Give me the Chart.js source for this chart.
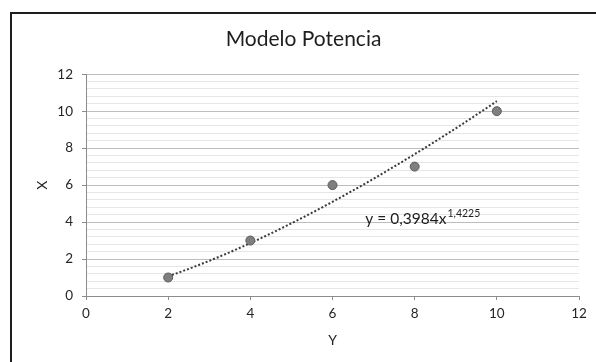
<!DOCTYPE html>
<html>
<head>
<meta charset="utf-8">
<script src="https://cdn.jsdelivr.net/npm/chart.js@4.4.1/dist/chart.umd.min.js"></script>
<style>
  html, body { margin: 0; padding: 0; background: #fff; }
  #wrap { width: 596px; height: 362px; position: relative; }
</style>
</head>
<body>
<div id="wrap"><canvas id="chart" width="596" height="362"></canvas></div>
<script>
// observed values
var xValues = [2, 4, 6, 8, 10];
var yValues = [1, 3, 6, 7, 10];

// power trendline y = a * x^b, as printed on the chart
var trendA = 0.3984;
var trendB = 1.4225;
var trendLabel = 'y = 0,3984x';
var trendExp = '1,4225';

var xTicks = [0, 2, 4, 6, 8, 10, 12];
var yTicks = [0, 2, 4, 6, 8, 10, 12];

var FONT = 'Lato, "Open Sans", sans-serif';

var points = xValues.map(function (x, i) { return { x: x, y: yValues[i] }; });

// sample the fitted curve over the range of the data
var trend = [];
var x0 = xValues[0], x1 = xValues[xValues.length - 1];
for (var k = 0; k <= 40; k++) {
    var xx = x0 + (x1 - x0) * k / 40;
    trend.push({ x: xx, y: trendA * Math.pow(xx, trendB) });
}

function isMajor(v) {
    return Math.abs(v / 2 - Math.round(v / 2)) < 1e-6;
}

// white background plus the frame round the chart
var framePlugin = {
    id: 'frame',
    beforeDraw: function (chart) {
        var ctx = chart.ctx;
        ctx.save();
        ctx.fillStyle = '#fff';
        ctx.fillRect(0, 0, chart.width, chart.height);
        ctx.fillStyle = '#1e1e1e';
        ctx.fillRect(10, 12, 2, chart.height - 12);
        ctx.fillRect(10, 12, chart.width - 10, 2);
        ctx.restore();
    }
};

// trendline equation with superscript exponent
var equationPlugin = {
    id: 'equation',
    afterDatasetsDraw: function (chart, args, opts) {
        var ctx = chart.ctx;
        var px = chart.scales.x.getPixelForValue(opts.x);
        var py = chart.scales.y.getPixelForValue(opts.y);
        ctx.save();
        ctx.fillStyle = '#1e1e1e';
        ctx.textBaseline = 'alphabetic';
        ctx.textAlign = 'left';
        ctx.font = '15.5px ' + FONT;
        ctx.fillText(trendLabel, px, py);
        var w = ctx.measureText(trendLabel).width;
        ctx.font = '10.5px ' + FONT;
        ctx.fillText(trendExp, px + w + 1, py - 7);
        ctx.restore();
    }
};

new Chart(document.getElementById('chart'), {
    type: 'scatter',
    data: {
        datasets: [{
            label: 'datos',
            data: points,
            backgroundColor: '#7f7f7f',
            borderColor: '#5c5c5c',
            borderWidth: 1,
            pointRadius: 4.5,
            order: 1
        }, {
            type: 'line',
            label: 'Potencia',
            data: trend,
            borderColor: '#3a3a3a',
            borderWidth: 2,
            borderDash: [2, 2],
            pointRadius: 0,
            fill: false,
            tension: 0,
            order: 2
        }]
    },
    options: {
        responsive: false,
        animation: false,
        layout: { padding: { left: 28, right: 17, top: 0, bottom: 0 } },
        plugins: {
            legend: { display: false },
            tooltip: { enabled: false },
            title: {
                display: true,
                text: 'Modelo Potencia',
                color: '#1e1e1e',
                font: { family: FONT, size: 21, weight: 'normal' },
                padding: { top: 27, bottom: 22 }
            },
            equation: { x: 6.8, y: 3.9 }
        },
        scales: {
            x: {
                type: 'linear',
                min: 0,
                max: 12,
                afterBuildTicks: function (scale) {
                    scale.ticks = xTicks.map(function (v) { return { value: v }; });
                },
                afterFit: function (scale) { scale.height = 66; },
                grid: {
                    drawOnChartArea: false,
                    drawTicks: true,
                    tickLength: 4,
                    tickColor: '#8c8c8c'
                },
                border: { color: '#8c8c8c', width: 1 },
                ticks: {
                    color: '#262626',
                    padding: 6,
                    font: { family: FONT, size: 13.5 }
                },
                title: {
                    display: true,
                    text: 'Y',
                    color: '#262626',
                    font: { family: FONT, size: 14 },
                    padding: { top: 0, bottom: 13 }
                }
            },
            y: {
                type: 'linear',
                min: 0,
                max: 12,
                ticks: {
                    stepSize: 0.4,
                    autoSkip: false,
                    color: '#262626',
                    padding: 9,
                    font: { family: FONT, size: 13.5 },
                    callback: function (v) {
                        return isMajor(v) && yTicks.indexOf(Math.round(v)) >= 0 ? String(Math.round(v)) : '';
                    }
                },
                afterFit: function (scale) { scale.width = 58; },
                grid: {
                    tickLength: 4,
                    color: function (c) { return isMajor(c.tick.value) ? '#bdbdbd' : '#e6e6e6'; },
                    tickColor: function (c) { return isMajor(c.tick.value) ? '#8c8c8c' : 'rgba(0,0,0,0)'; }
                },
                border: { color: '#8c8c8c', width: 1 },
                title: {
                    display: true,
                    text: 'X',
                    color: '#262626',
                    font: { family: FONT, size: 14 },
                    padding: { top: 6, bottom: 0 }
                }
            }
        }
    },
    plugins: [framePlugin, equationPlugin]
});
</script>
</body>
</html>
